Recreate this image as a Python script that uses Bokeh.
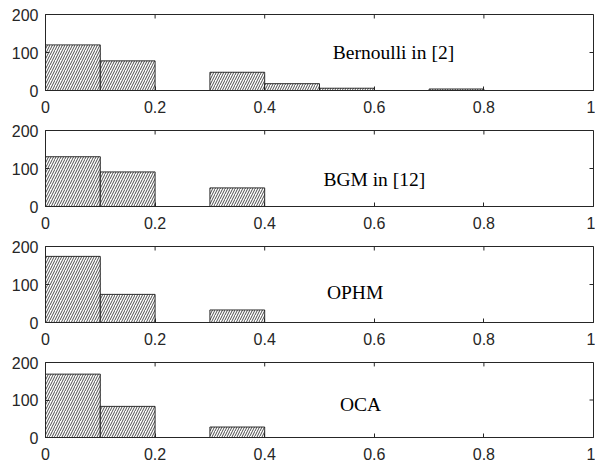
from bokeh.plotting import figure
from bokeh.layouts import column
from bokeh.models import Range1d, LinearAxis, FixedTicker, ColumnDataSource
from bokeh.core.properties import value
from bokeh.embed import file_html
from bokeh.resources import INLINE

bin_edges = [0.0, 0.1, 0.2, 0.3, 0.4, 0.5, 0.6, 0.7, 0.8, 0.9, 1.0]
bernoulli = [120, 78, 0, 48, 18, 6, 0, 4, 0, 0]
bgm = [131, 91, 0, 49, 0, 0, 0, 0, 0, 0]
ophm = [174, 74, 0, 33, 0, 0, 0, 0, 0, 0]
oca = [169, 83, 0, 28, 0, 0, 0, 0, 0, 0]
labels = ["Bernoulli in [2]", "BGM in [12]", "OPHM", "OCA"]
label_x = [0.635, 0.60, 0.565, 0.575]
label_y = [100, 72, 80, 89]
x_ticks = [0, 0.2, 0.4, 0.6, 0.8, 1]
x_tick_labels = {0: "0", 0.2: "0.2", 0.4: "0.4", 0.6: "0.6", 0.8: "0.8", 1: "1"}
y_ticks = [0, 100, 200]

series = [bernoulli, bgm, ophm, oca]
AX = "#262626"
FRAME_W, FRAME_H = 548, 76
TICK = 4
figs = []
for i, counts in enumerate(series):
    first = i == 0
    last = i == len(series) - 1
    top_b = 14 if first else 6
    bot_b = 24 if last else 34
    p = figure(width=45 + FRAME_W + 2, height=top_b + FRAME_H + bot_b, output_backend="svg",
               toolbar_location=None, x_range=Range1d(0, 1), y_range=Range1d(0, 200),
               min_border_left=45, min_border_right=2, min_border_top=top_b,
               min_border_bottom=bot_b, x_axis_location=None, y_axis_location=None)
    p.grid.visible = False
    p.outline_line_color = AX
    p.outline_line_width = 1
    p.background_fill_color = "white"
    left = [bin_edges[k] for k in range(len(counts)) if counts[k] > 0]
    right = [bin_edges[k + 1] for k in range(len(counts)) if counts[k] > 0]
    top = [c for c in counts if c > 0]
    src = ColumnDataSource(dict(left=left, right=right, top=top, bottom=[0] * len(top)))
    p.quad(left="left", right="right", top="top", bottom="bottom", source=src,
           fill_color="white", line_color="black", line_width=0.8,
           hatch_pattern="/", hatch_color="black", hatch_scale=5, hatch_weight=0.7)
    p.text(x=[label_x[i]], y=[label_y[i]], text=[labels[i]], text_font=value("Liberation Serif"),
           text_font_size="19.5px", text_align="center", text_baseline="middle", text_color="black")

    # top and right inward tick marks (box style)
    ymax = p.y_range.end
    xmax = p.x_range.end
    dy = TICK * (p.y_range.end - p.y_range.start) / FRAME_H
    dx = TICK * (p.x_range.end - p.x_range.start) / FRAME_W
    p.segment(x0=x_ticks, y0=[ymax] * len(x_ticks), x1=x_ticks, y1=[ymax - dy] * len(x_ticks),
              line_color=AX, line_width=1)
    p.segment(x0=[xmax] * len(y_ticks), y0=y_ticks, x1=[xmax - dx] * len(y_ticks), y1=y_ticks,
              line_color=AX, line_width=1)

    def mk(ticks, overrides=None):
        ax = LinearAxis(ticker=FixedTicker(ticks=ticks))
        ax.axis_line_color = AX
        ax.axis_line_width = 1
        ax.major_tick_in = TICK
        ax.major_tick_out = 0
        ax.major_tick_line_color = AX
        ax.minor_tick_line_color = None
        ax.major_label_text_font = "Liberation Sans"
        ax.major_label_text_font_size = "16px"
        ax.major_label_text_color = AX
        if overrides:
            ax.major_label_overrides = overrides
        return ax

    bx = mk(x_ticks, x_tick_labels)
    bx.major_label_standoff = 10
    p.add_layout(bx, "below")
    ly = mk(y_ticks)
    ly.major_label_standoff = 7
    p.add_layout(ly, "left")
    figs.append(p)

layout = column(*figs, spacing=0)
open("out.html", "w").write(file_html(layout, INLINE))
